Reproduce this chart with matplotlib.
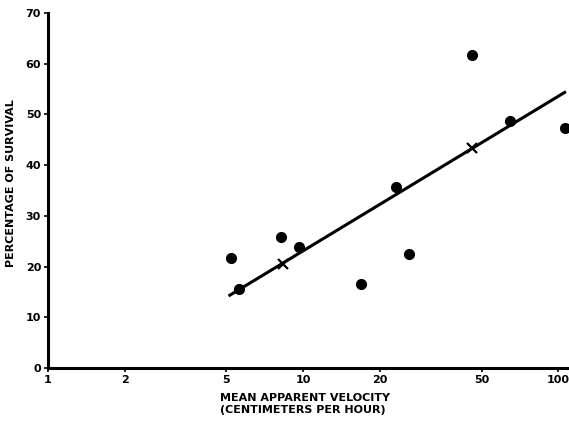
import matplotlib
matplotlib.use("Agg")
import matplotlib.pyplot as plt

# Datos
velocity = [5.2, 5.6, 8.2, 9.6, 16.9, 23.2, 26.0, 46.0, 64.8, 106.5]
survival = [21.7, 15.6, 25.8, 23.9, 16.6, 35.7, 22.5, 61.7, 48.7, 47.3]

fit_x = [5.1, 107.0]
fit_y = [14.2, 54.5]
mark_x = [8.3, 46.0]
mark_y = [20.5, 43.4]

xticks = [1, 2, 5, 10, 20, 50, 100]
yticks = [0, 10, 20, 30, 40, 50, 60, 70]

plt.rcParams["font.family"] = "DejaVu Sans"
plt.rcParams["font.weight"] = "bold"

fig = plt.figure(figsize=(5.69, 4.24), dpi=100)
ax = fig.add_axes([48 / 569, 1 - 368 / 424, 521 / 569, 355 / 424])

ax.plot(fit_x, fit_y, color="black", lw=2.2, solid_capstyle="butt")
ax.plot(mark_x, mark_y, ls="none", marker="x", ms=7, mew=1.6, color="black")
ax.plot(velocity, survival, ls="none", marker="o", ms=7, color="black")

ax.set_xscale("log")
ax.set_xlim(1, 110)
ax.set_ylim(0, 70)
ax.set_xticks(xticks)
ax.set_xticklabels([str(t) for t in xticks])
ax.xaxis.set_minor_locator(matplotlib.ticker.NullLocator())
ax.set_yticks(yticks)

for s in ["top", "right"]:
    ax.spines[s].set_visible(False)
for s in ["left", "bottom"]:
    ax.spines[s].set_linewidth(2.2)

ax.tick_params(axis="both", direction="out", length=3, width=1.2,
               labelsize=8, pad=2)
for lab in ax.get_xticklabels() + ax.get_yticklabels():
    lab.set_fontweight("bold")

ax.set_ylabel("PERCENTAGE OF SURVIVAL", fontsize=8, fontweight="bold")
ax.yaxis.set_label_coords(-0.062, 0.52)
ax.set_xlabel("MEAN APPARENT VELOCITY\n(CENTIMETERS PER HOUR)", fontsize=8,
              fontweight="bold", multialignment="left", linespacing=1.3)
ax.xaxis.set_label_coords(0.493, -0.07)

fig.savefig("out.png", dpi=100)
